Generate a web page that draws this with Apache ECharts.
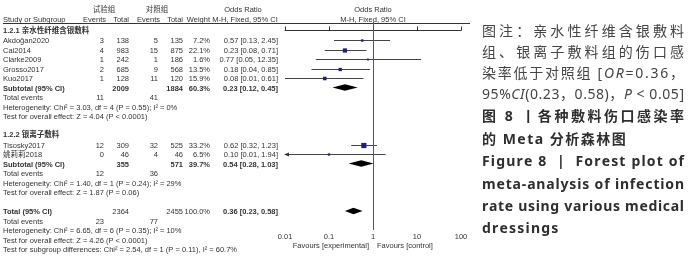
<!DOCTYPE html>
<html>
<head>
<meta charset="utf-8">
<script src="https://cdn.jsdelivr.net/npm/echarts@6/dist/echarts.min.js"></script>
<style>
  html, body { margin: 0; padding: 0; background: #fff; }
  #main { width: 700px; height: 260px; }
</style>
</head>
<body>
<div id="main"></div>
<script>
// ---- data ----
var studies   = ['Akdoğan2020', 'Cai2014', 'Clarke2009', 'Grosso2017', 'Kuo2017', 'Tisosky2017', '姚莉莉2018'];
var studyRows = [1, 2, 3, 4, 5, 12, 13];
var expEvents = [3, 4, 1, 2, 1, 12, 0];
var expTotal  = [138, 983, 242, 685, 128, 309, 46];
var ctlEvents = [5, 15, 1, 9, 11, 32, 4];
var ctlTotal  = [135, 875, 186, 568, 120, 525, 46];
var weights   = [7.2, 22.1, 1.6, 13.5, 15.9, 33.2, 6.5];
var orEst     = [0.57, 0.23, 0.77, 0.18, 0.08, 0.62, 0.10];
var orLow     = [0.13, 0.08, 0.05, 0.04, 0.01, 0.32, 0.0053];
var orHigh    = [2.45, 0.71, 12.35, 0.85, 0.61, 1.23, 1.94];

var groupNames   = ['1.2.1 亲水性纤维含银敷料', '1.2.2 银离子敷料'];
var groupRows    = [0, 11];
var subRows      = [6, 14];
var subExpTotal  = [2009, 355];
var subCtlTotal  = [1884, 571];
var subWeight    = [60.3, 39.7];
var subEst       = [0.23, 0.54];
var subLow       = [0.12, 0.28];
var subHigh      = [0.45, 1.03];
var subExpEvents = [11, 12];
var subCtlEvents = [41, 36];
var subHet  = ['Heterogeneity: Chi² = 3.03, df = 4 (P = 0.55); I² = 0%',
               'Heterogeneity: Chi² = 1.40, df = 1 (P = 0.24); I² = 29%'];
var subTest = ['Test for overall effect: Z = 4.04 (P < 0.0001)',
               'Test for overall effect: Z = 1.87 (P = 0.06)'];

var totalRow       = 19;
var totalExpTotal  = 2364;
var totalCtlTotal  = 2455;
var totalWeight    = 100.0;
var totalEst       = 0.36;
var totalLow       = 0.23;
var totalHigh      = 0.58;
var totalExpEvents = 23;
var totalCtlEvents = 77;
var totalHet  = 'Heterogeneity: Chi² = 6.65, df = 6 (P = 0.35); I² = 10%';
var totalTest = 'Test for overall effect: Z = 4.26 (P < 0.0001)';
var subDiff   = 'Test for subgroup differences: Chi² = 2.54, df = 1 (P = 0.11), I² = 60.7%';

var xTicks = [0.01, 0.1, 1, 10, 100];

// ---- layout ----
var ROW0 = 30.5, ROWH = 9.5;
function rowY(n) { return ROW0 + ROWH * n; }
var TFONT = '"Liberation Sans", Arial, "Noto Sans CJK SC", sans-serif';
var TSIZE = 7.5;
var TCOL = '#333';
var colE1 = 104, colT1 = 129, colE2 = 158, colT2 = 183, colW = 210, colOR = 278;

var chart = echarts.init(document.getElementById('main'));

function fmtCI(e, l, h) {
  return e.toFixed(2) + ' [' + l.toFixed(2) + ', ' + h.toFixed(2) + ']';
}

var option = {
  animation: false,
  backgroundColor: '#fff',
  grid: { left: 285, right: 239, top: 22, height: 208 },
  xAxis: {
    type: 'log', logBase: 10, min: 0.01, max: 100,
    axisLine: { lineStyle: { color: '#333', width: 1 } },
    axisTick: { inside: true, length: 4, customValues: xTicks, lineStyle: { color: '#333' } },
    axisLabel: { customValues: xTicks, fontSize: TSIZE, fontFamily: TFONT, color: TCOL, margin: 3,
                 formatter: function (v) { return String(v); } },
    splitLine: { show: false },
    minorTick: { show: false }
  },
  yAxis: { type: 'value', inverse: true, min: (22 - ROW0) / ROWH, max: (230 - ROW0) / ROWH, show: false },
  series: [
    {
      type: 'custom',
      name: 'studies',
      encode: { x: [0, 1, 2], y: 3 },
      data: studies.map(function (s, i) { return [orLow[i], orHigh[i], orEst[i], studyRows[i], weights[i]]; }),
      renderItem: function (params, api) {
        var lo = api.value(0), hi = api.value(1), est = api.value(2), row = api.value(3), w = api.value(4);
        var p1 = api.coord([Math.max(lo, 0.01), row]);
        var p2 = api.coord([hi, row]);
        var pc = api.coord([est, row]);
        var y = Math.round(pc[1]) + 0.5;
        var s = Math.max(1.8, 0.9 * Math.sqrt(w));
        var kids = [
          { type: 'line', shape: { x1: p1[0], y1: y, x2: p2[0], y2: y }, style: { stroke: '#444', lineWidth: 1 } },
          { type: 'rect', shape: { x: pc[0] - s / 2, y: y - s / 2, width: s, height: s }, style: { fill: '#1c1c8c' } }
        ];
        if (lo < 0.01) {
          kids.push({ type: 'polygon', shape: { points: [[p1[0] - 1, y], [p1[0] + 4, y - 2], [p1[0] + 4, y + 2]] },
                      style: { fill: '#333' } });
        }
        return { type: 'group', children: kids };
      },
      markLine: {
        silent: true, symbol: 'none', animation: false,
        label: { show: false },
        lineStyle: { color: '#555', type: 'solid', width: 1 },
        data: [{ xAxis: 1 }]
      }
    },
    {
      type: 'custom',
      name: 'pooled',
      encode: { x: [0, 1, 2], y: 3 },
      data: subRows.map(function (r, i) { return [subLow[i], subHigh[i], subEst[i], r]; })
              .concat([[totalLow, totalHigh, totalEst, totalRow]]),
      renderItem: function (params, api) {
        var row = api.value(3);
        var a = api.coord([api.value(0), row]);
        var b = api.coord([api.value(1), row]);
        var c = api.coord([api.value(2), row]);
        var h = 3.2;
        return { type: 'polygon', shape: { points: [[a[0], c[1]], [c[0], c[1] - h], [b[0], c[1]], [c[0], c[1] + h]] },
                 style: { fill: '#000' } };
      }
    }
  ]
};
chart.setOption(option);

// ---- table text ----
var g = [];
function txt(str, x, y, align, bold, extra) {
  var st = { text: str, fill: TCOL, fontSize: TSIZE, fontFamily: TFONT, fontWeight: bold ? 'bold' : 'normal',
             align: align || 'left', verticalAlign: 'middle' };
  if (extra) for (var k in extra) st[k] = extra[k];
  g.push({ type: 'text', x: x, y: y, silent: true, style: st });
}
var xOne = chart.convertToPixel({ xAxisIndex: 0 }, 1);

txt('试验组', 104, 9.5, 'center');
txt('对照组', 157, 9.5, 'center');
txt('Odds Ratio', 243, 9.5, 'center');
txt('Odds Ratio', xOne, 9.5, 'center');
txt('Study or Subgroup', 3, 19.5, 'left');
txt('Events', 106, 19.5, 'right');
txt('Total', colT1, 19.5, 'right');
txt('Events', 160, 19.5, 'right');
txt('Total', colT2, 19.5, 'right');
txt('Weight', colW, 19.5, 'right');
txt('M-H, Fixed, 95% CI', 245, 19.5, 'center');
txt('M-H, Fixed, 95% CI', xOne, 19.5, 'center');
g.push({ type: 'line', silent: true, shape: { x1: 3, y1: 23.5, x2: 470, y2: 23.5 }, style: { stroke: '#333', lineWidth: 1 } });

studies.forEach(function (s, i) {
  var y = rowY(studyRows[i]) + 1;
  txt(s, 3, y, 'left');
  txt(String(expEvents[i]), colE1, y, 'right');
  txt(String(expTotal[i]), colT1, y, 'right');
  txt(String(ctlEvents[i]), colE2, y, 'right');
  txt(String(ctlTotal[i]), colT2, y, 'right');
  txt(weights[i].toFixed(1) + '%', colW, y, 'right');
  txt(fmtCI(orEst[i], orLow[i], orHigh[i]), colOR, y, 'right');
});

groupNames.forEach(function (name, i) {
  txt(name, 3, rowY(groupRows[i]), 'left', true);
  var r = subRows[i];
  var y = rowY(r) + 1;
  txt('Subtotal (95% CI)', 3, y, 'left', true);
  txt(String(subExpTotal[i]), colT1, y, 'right', true);
  txt(String(subCtlTotal[i]), colT2, y, 'right', true);
  txt(subWeight[i].toFixed(1) + '%', colW, y, 'right', true);
  txt(fmtCI(subEst[i], subLow[i], subHigh[i]), colOR, y, 'right', true);
  txt('Total events', 3, rowY(r + 1) + 1, 'left');
  txt(String(subExpEvents[i]), colE1, rowY(r + 1) + 1, 'right');
  txt(String(subCtlEvents[i]), colE2, rowY(r + 1) + 1, 'right');
  txt(subHet[i], 3, rowY(r + 2) + 1, 'left');
  txt(subTest[i], 3, rowY(r + 3) + 1, 'left');
});

var ty = rowY(totalRow) + 1;
txt('Total (95% CI)', 3, ty, 'left', true);
txt(String(totalExpTotal), colT1, ty, 'right');
txt(String(totalCtlTotal), colT2, ty, 'right');
txt(totalWeight.toFixed(1) + '%', colW, ty, 'right');
txt(fmtCI(totalEst, totalLow, totalHigh), colOR, ty, 'right', true);
txt('Total events', 3, rowY(totalRow + 1) + 1, 'left');
txt(String(totalExpEvents), colE1, rowY(totalRow + 1) + 1, 'right');
txt(String(totalCtlEvents), colE2, rowY(totalRow + 1) + 1, 'right');
txt(totalHet, 3, rowY(totalRow + 2) + 1, 'left');
txt(totalTest, 3, rowY(totalRow + 3) + 1, 'left');
txt(subDiff, 3, rowY(totalRow + 4) + 1, 'left');

txt('Favours [experimental]', xOne - 4, 246, 'right');
txt('Favours [control]', xOne + 4, 246, 'left');

// ---- caption on the right, justified character by character ----
var CFONT = '"Noto Sans", "Noto Sans CJK SC", sans-serif';
var CSIZE = 14, CAPX = 482, CAPW = 202;
var ctx = document.createElement('canvas').getContext('2d');
function capLine(parts, y, justify, bold, color, gap0) {
  var toks = [];
  parts.forEach(function (p) {
    Array.from(p[0]).forEach(function (ch) { toks.push({ ch: ch, italic: p[1] === 'i' }); });
  });
  var total = 0;
  toks.forEach(function (t) {
    ctx.font = (t.italic ? 'italic ' : '') + (bold ? 'bold ' : '') + CSIZE + 'px ' + CFONT;
    t.w = ctx.measureText(t.ch).width;
    total += t.w;
  });
  var gap = justify ? (CAPW - total) / (toks.length - 1) : gap0;
  var x = CAPX;
  toks.forEach(function (t) {
    if (t.ch !== ' ') {
      g.push({ type: 'text', x: x, y: y, silent: true,
               style: { text: t.ch, fill: color, fontSize: CSIZE, fontFamily: CFONT,
                        fontWeight: bold ? 'bold' : 'normal', fontStyle: t.italic ? 'italic' : 'normal',
                        align: 'left', verticalAlign: 'middle' } });
    }
    x += t.w + gap;
  });
}
var cN = '#444', cB = '#2e2e2e';
capLine([['图注：亲水性纤维含银敷料']], 32, true, false, cN);
capLine([['组、银离子敷料组的伤口感']], 53, true, false, cN);
capLine([['染率低于对照组 ['], ['OR', 'i'], ['=0.36，']], 74, true, false, cN);
capLine([['95%'], ['CI', 'i'], ['(0.23，0.58)，'], ['P', 'i'], [' < 0.05]']], 95, true, false, cN);
capLine([['图 8 丨各种敷料伤口感染率']], 117, true, true, cB);
capLine([['的 Meta 分析森林图']], 140, false, true, cB, 1.5);
capLine([['Figure 8  |  Forest plot of']], 162, true, true, cB);
capLine([['meta-analysis of infection']], 185, true, true, cB);
capLine([['rate using various medical']], 207, true, true, cB);
capLine([['dressings']], 229, false, true, cB, 1.2);

chart.setOption({ graphic: { elements: g } });
</script>
</body>
</html>
